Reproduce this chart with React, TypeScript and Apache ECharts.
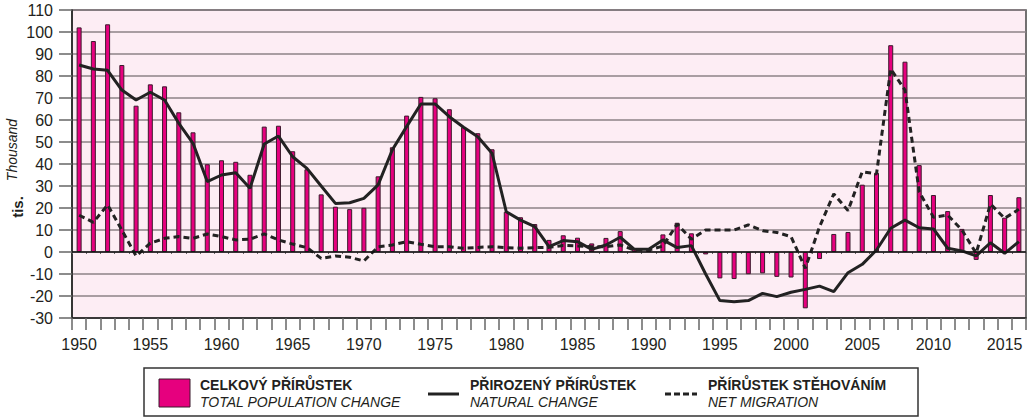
import React, { useEffect, useRef } from "react";
import * as echarts from "echarts";

const years: string[] = [];
for (let y = 1950; y <= 2016; y++) years.push(String(y));

const totalChange = [
  102.1, 95.9, 103.5, 85.0, 66.5, 76.2, 75.3, 63.5, 54.4, 39.9,
  41.7, 41.0, 35.1, 57.0, 57.4, 45.8, 37.6, 26.2, 20.6, 19.5,
  20.1, 34.4, 47.6, 62.0, 70.5, 69.9, 64.9, 56.8, 54.0, 46.7,
  18.3, 15.8, 12.7, 5.5, 7.6, 6.5, 3.9, 6.4, 9.5, 1.7,
  1.1, 8.0, 13.3, 8.5, -1.1, -12.0, -12.3, -10.1, -9.7, -11.3,
  -11.6, -25.6, -3.2, 8.2, 9.1, 30.6, 36.0, 94.0, 86.5, 39.5,
  25.9, 18.6, 10.5, -3.6, 25.9, 15.6, 24.9,
];

const naturalChange = [
  85.0, 83.2, 82.6, 73.6, 69.1, 72.6, 69.1, 58.5, 49.4, 32.0,
  35.0, 36.0, 29.0, 49.1, 52.7, 43.3, 38.0, 30.0, 22.1, 22.4,
  24.4, 30.5, 46.5, 57.0, 67.3, 67.3, 61.5, 56.7, 52.4, 44.9,
  18.3, 14.5, 11.5, 2.4, 5.2, 4.7, 1.2, 3.2, 6.7, 1.2,
  1.2, 5.5, 2.0, 2.9, -10.0, -22.1, -22.6, -22.1, -18.8, -20.3,
  -18.3, -17.0, -15.5, -18.0, -9.4, -5.6, 0.9, 10.8, 14.5, 11.0,
  10.5, 1.7, 0.5, -1.8, 4.2, -0.6, 4.7,
];

const netMigration = [
  16.7, 13.5, 21.4, 10.0, -1.8, 4.0, 6.2, 7.0, 6.2, 8.2,
  7.0, 5.5, 5.8, 8.2, 5.5, 3.6, 2.0, -2.9, -1.8, -2.4,
  -4.1, 2.4, 3.2, 4.7, 3.5, 2.4, 2.4, 1.7, 2.1, 2.4,
  2.0, 1.7, 2.0, 2.1, 3.0, 2.7, 2.4, 2.4, 3.2, 0.9,
  0.9, 2.7, 12.7, 5.8, 10.0, 10.0, 10.0, 12.3, 9.7, 8.9,
  7.0, -7.4, 11.5, 26.4, 18.8, 36.5, 35.5, 83.2, 73.6, 27.4,
  15.8, 16.8, 10.0, -0.6, 21.8, 15.3, 19.4,
];

const legendTitles = ["CELKOVÝ PŘÍRŮSTEK", "PŘIROZENÝ PŘÍRŮSTEK", "PŘÍRŮSTEK STĚHOVÁNÍM"];
const legendSubtitles = ["TOTAL POPULATION CHANGE", "NATURAL CHANGE", "NET MIGRATION"];

const FONT = "'Liberation Sans', Arial, Helvetica, sans-serif";
const MAGENTA = "#e6007e";
const INK = "#231f20";

export default function App() {
  const ref = useRef<HTMLDivElement>(null);

  useEffect(() => {
    if (!ref.current) return;
    const chart = echarts.init(ref.current, undefined, { renderer: "svg" });

    const legendY1 = 385;
    const legendY2 = 402;
    const option: any = {
      animation: false,
      textStyle: { fontFamily: FONT },
      grid: {
        left: 72,
        top: 10,
        right: 8,
        bottom: 101,
        show: true,
        backgroundColor: "#fdedf4",
        borderColor: "#444",
        borderWidth: 1.5,
      },
      xAxis: [
        {
          type: "category",
          data: years,
          position: "bottom",
          boundaryGap: true,
          axisLine: { show: true, onZero: false, lineStyle: { color: "#222", width: 1.5 } },
          axisTick: { show: true, interval: 0, alignWithLabel: false, length: 12, lineStyle: { color: "#666", width: 1.5 } },
          axisLabel: { interval: 4, fontSize: 16, color: INK, margin: 18, fontFamily: FONT },
          splitLine: { show: false },
        },
        {
          type: "category",
          data: years,
          position: "top",
          boundaryGap: true,
          axisLine: { show: false },
          axisTick: { show: true, inside: true, interval: 0, length: 2, lineStyle: { color: "#666", width: 1 } },
          axisLabel: { show: false },
          splitLine: { show: false },
        },
      ],
      yAxis: {
        type: "value",
        min: -30,
        max: 110,
        interval: 10,
        axisLine: { show: true, lineStyle: { color: "#222", width: 1.5 } },
        axisTick: { show: true, length: 13, lineStyle: { color: "#666", width: 1.5 } },
        axisLabel: { fontSize: 16, color: INK, margin: 19, fontFamily: FONT },
        splitLine: { show: true, lineStyle: { color: "#8c8287", width: 1.5 } },
      },
      series: [
        {
          name: "total",
          type: "bar",
          xAxisIndex: 0,
          data: totalChange,
          barWidth: 5,
          itemStyle: { color: MAGENTA, borderColor: "#3b1a2c", borderWidth: 1 },
          markLine: {
            silent: true,
            symbol: "none",
            label: { show: false },
            lineStyle: { color: "#111", width: 1.5, type: "solid" },
            data: [{ yAxis: 0 }],
          },
          z: 2,
        },
        {
          name: "natural",
          type: "line",
          xAxisIndex: 0,
          data: naturalChange,
          symbol: "none",
          lineStyle: { color: "#222", width: 3 },
          z: 3,
        },
        {
          name: "migration",
          type: "line",
          xAxisIndex: 0,
          data: netMigration,
          symbol: "none",
          lineStyle: { color: "#222", width: 3, type: [6, 4] },
          z: 3,
        },
      ],
      graphic: [
        {
          type: "text",
          x: 17,
          y: 207,
          rotation: Math.PI / 2,
          style: { text: "tis.", font: `bold 15px ${FONT}`, fill: INK, textAlign: "center", textVerticalAlign: "middle" },
        },
        {
          type: "text",
          x: 11.5,
          y: 150,
          rotation: Math.PI / 2,
          style: { text: "Thousand", font: `italic 14px ${FONT}`, fill: INK, textAlign: "center", textVerticalAlign: "middle" },
        },
        {
          type: "rect",
          shape: { x: 144, y: 368, width: 774, height: 48 },
          style: { fill: "#fff", stroke: "#333", lineWidth: 1.5 },
        },
        {
          type: "rect",
          shape: { x: 159, y: 379, width: 31, height: 28 },
          style: { fill: MAGENTA, stroke: "#3b1a2c", lineWidth: 1 },
        },
        {
          type: "line",
          shape: { x1: 428, y1: 394, x2: 459, y2: 394 },
          style: { stroke: "#222", lineWidth: 3 },
        },
        {
          type: "line",
          shape: { x1: 665, y1: 394, x2: 697, y2: 394 },
          style: { stroke: "#222", lineWidth: 3, lineDash: [6, 3] },
        },
        ...[200, 470, 708].flatMap((x, i) => [
          {
            type: "text",
            x,
            y: legendY1,
            style: { text: legendTitles[i], font: `bold 14px ${FONT}`, fill: INK, textVerticalAlign: "middle" },
          },
          {
            type: "text",
            x,
            y: legendY2,
            style: { text: legendSubtitles[i], font: `italic 14px ${FONT}`, fill: INK, textVerticalAlign: "middle" },
          },
        ]),
      ],
    };

    chart.setOption(option);
    return () => chart.dispose();
  }, []);

  return <div ref={ref} style={{ width: 1034, height: 419, position: "absolute", left: 0, top: 0 }} />;
}
